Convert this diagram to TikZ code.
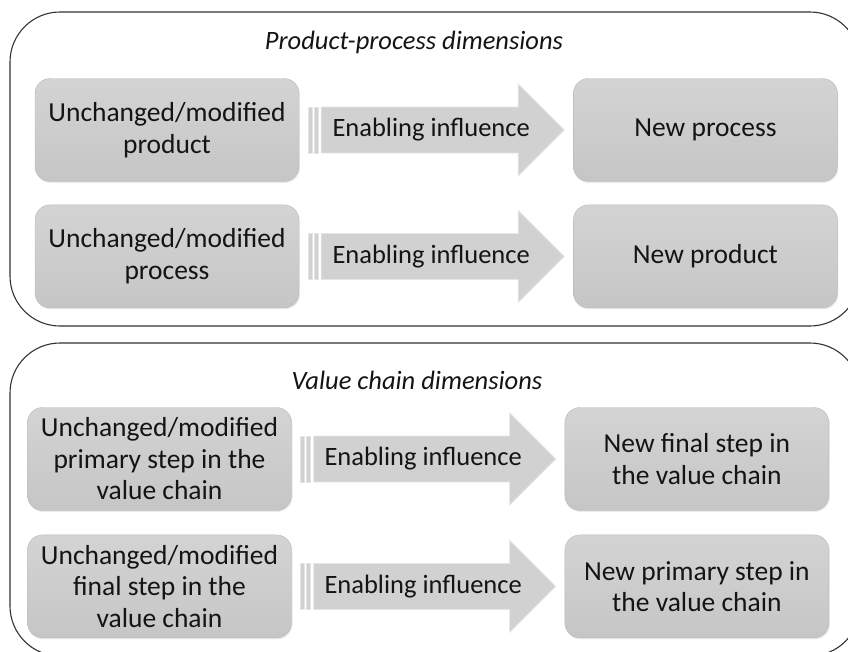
\documentclass[tikz,border=0pt]{standalone}
\usepackage{fontspec}
\setmainfont{Carlito}
\usetikzlibrary{positioning,calc,shadows}

\begin{document}
\begin{tikzpicture}[x=1pt,y=1pt,
    every node/.style={font=\fontsize{27.5}{31.5}\selectfont,text=black!92},
    box/.style={draw=gray!55,top color=gray!34,bottom color=gray!45,rounded corners=15pt,
      align=center,minimum width=264pt,minimum height=103pt,inner sep=2pt,
      drop shadow={opacity=0.15,shadow xshift=1pt,shadow yshift=-1.5pt}},
    panel/.style={draw=black!80,line width=1.1pt,rounded corners=50pt},
    title/.style={font=\fontsize{26.5}{30}\selectfont\itshape},
    arrowfill/.style={fill=gray!36,draw=white!90!black,line width=0.8pt}]
    \useasboundingbox (0,0) rectangle (848,-651);
    \clip (0,0) rectangle (848,-651);

    %% frames
    \draw[panel] (10,-12) rectangle (860,-326);
    \draw[panel] (10,-343) rectangle (860,-656);
    \node[title] (t1) at (414,-42) {Product-process dimensions};
    \node[title] (t2) at (417,-380) {Value chain dimensions};

    %% product-process
    \node[box] (l1) at (167,-130) {Unchanged/modified\\product};
    \node[box,below=23pt of l1] (l2) {Unchanged/modified\\process};
    \node[box,right=274pt of l1] (r1) {New process};
    \node[box,right=274pt of l2] (r2) {New product};

    %% value chain
    \node[box] (l3) at (159.5,-459) {Unchanged/modified\\primary step in the\\value chain};
    \node[box,below=24pt of l3] (l4) {Unchanged/modified\\final step in the\\value chain};
    \node[box,right=273pt of l3] (r3) {New final step in\\the value chain};
    \node[box,right=273pt of l4] (r4) {New primary step in\\the value chain};

    %% enabling arrows
    \foreach \a/\b in {l1/r1,l2/r2,l3/r3,l4/r4}{
      \fill[arrowfill] ($(\a.east)+(9,-23)$) rectangle ($(\a.east)+(13,23)$);
      \fill[arrowfill] ($(\a.east)+(15,-23)$) rectangle ($(\a.east)+(19,23)$);
      \fill[arrowfill] ($(\a.east)+(22,-23)$) -- ($(\b.west)+(-55,-23)$)
        -- ($(\b.west)+(-55,-46)$) -- ($(\b.west)+(-9,0)$) -- ($(\b.west)+(-55,46)$)
        -- ($(\b.west)+(-55,23)$) -- ($(\a.east)+(22,23)$) -- cycle;
      \node[inner sep=0pt,font=\fontsize{26.5}{30}\selectfont] (e-\a)
        at ($(\a.east)!0.5!(\b.west)+(-5,0)$) {Enabling influence};
    }
\end{tikzpicture}
\end{document}
